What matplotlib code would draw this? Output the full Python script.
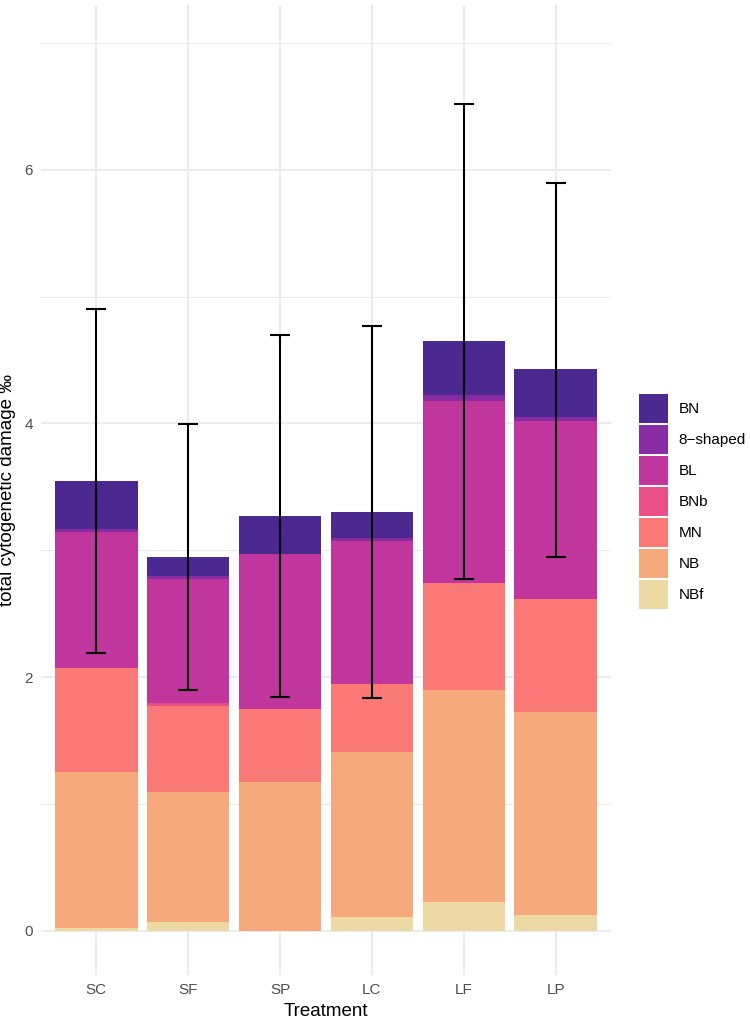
import numpy as np
import matplotlib
matplotlib.use("Agg")
import matplotlib.pyplot as plt
from matplotlib.patches import Patch

plt.rcParams['font.family'] = ['Liberation Sans', 'DejaVu Sans']

treatments = ['SC', 'SF', 'SP', 'LC', 'LF', 'LP']

# stacked from the bottom up
damage_types = ['NBf', 'NB', 'MN', 'BNb', 'BL', '8\u2212shaped', 'BN']
NBf = [0.02, 0.068, 0.0, 0.107, 0.222, 0.120]
NB = [1.228, 1.027, 1.172, 1.299, 1.672, 1.601]
MN = [0.823, 0.676, 0.572, 0.542, 0.847, 0.895]
BNb = [0.0, 0.022, 0.0, 0.0, 0.0, 0.0]
BL = [1.076, 0.978, 1.229, 1.125, 1.432, 1.406]
shaped8 = [0.022, 0.027, 0.0, 0.024, 0.049, 0.027]
BN = [0.379, 0.150, 0.299, 0.205, 0.425, 0.377]

err_low = [2.188, 1.896, 1.845, 1.832, 2.776, 2.949]
err_high = [4.902, 3.997, 4.698, 4.767, 6.519, 5.894]

colors = ['#edd9a3', '#f6a97a', '#fa7876', '#ea4f88', '#c0369d', '#872ca2', '#4b2991']
series = [NBf, NB, MN, BNb, BL, shaped8, BN]

fig = plt.figure(figsize=(7.5, 10.18), dpi=100)
W, H = 750, 1018
ax = fig.add_axes([41 / W, 1 - 975 / H, 570 / W, 970 / H])

x = np.arange(len(treatments))
bottom = np.zeros(len(treatments))
for vals, c in zip(series, colors):
    vals = np.array(vals)
    ax.bar(x, vals, width=0.9, bottom=bottom, color=c, linewidth=0, zorder=2)
    bottom += vals

low = np.array(err_low)
high = np.array(err_high)
mid = (low + high) / 2
ax.errorbar(x, mid, yerr=[mid - low, high - mid], fmt='none', ecolor='black',
            elinewidth=1.5, capsize=7.5, capthick=1.5, zorder=3)

ax.set_xlim(-0.6, len(treatments) - 0.4)
ax.set_ylim(-0.35, 7.3)
ax.set_xticks(x)
ax.set_xticklabels(treatments)
ax.set_yticks([0, 2, 4, 6])
ax.set_yticks([1, 3, 5, 7], minor=True)
ax.grid(True, which='major', color='#ebebeb', linewidth=1.4, zorder=0)
ax.grid(True, which='minor', axis='y', color='#ebebeb', linewidth=0.8, zorder=0)
ax.set_axisbelow(True)
for s in ax.spines.values():
    s.set_visible(False)
ax.tick_params(which='both', length=0, labelsize=11, labelcolor='#4d4d4d', pad=6)

ax.set_xlabel('Treatment', fontsize=13.5, labelpad=4)
ax.set_ylabel('total cytogenetic damage \u2030', fontsize=13.5, labelpad=6)

handles = [Patch(facecolor=c, edgecolor='none') for c in colors][::-1]
labels = damage_types[::-1]
fig.legend(handles, labels, loc='upper left', bbox_to_anchor=(639 / W, 1 - 394 / H),
           frameon=False, fontsize=11, handlelength=1.9, handleheight=2.55,
           handletextpad=0.7, labelspacing=0.13, borderpad=0, borderaxespad=0)

fig.savefig('out.png', dpi=100)
